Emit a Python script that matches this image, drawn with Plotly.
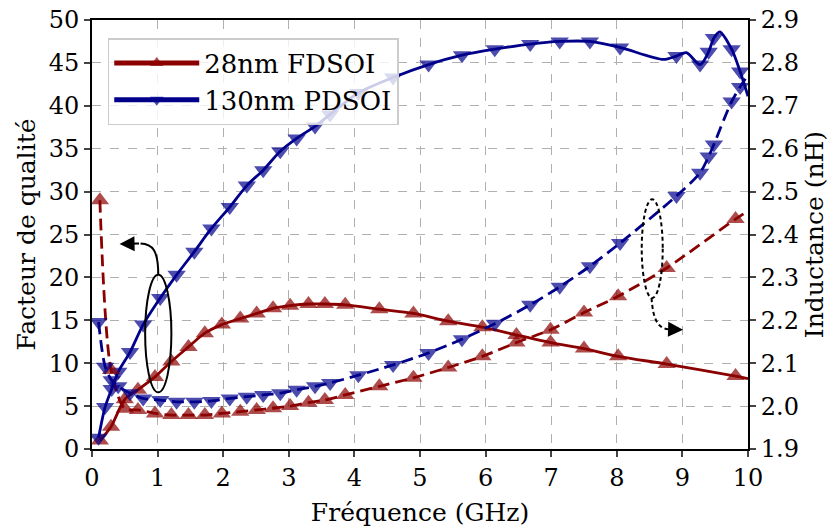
import plotly.graph_objects as go

# frequency points (GHz) where the 28nm markers sit
freq_28 = [0.12, 0.29, 0.5, 0.7, 0.96, 1.21, 1.47, 1.72, 1.98, 2.26, 2.51, 2.76, 3.02,
           3.3, 3.55, 3.86, 4.38, 4.9, 5.43, 5.95, 6.47, 6.99, 7.5, 8.02, 8.76, 9.81]
q_28 = [1.0, 2.6, 5.8, 6.9, 8.4, 10.2, 11.9, 13.5, 14.5, 15.2, 15.8, 16.4, 16.7,
        16.9, 16.9, 16.8, 16.3, 15.8, 14.9, 14.2, 13.3, 12.4, 11.7, 10.8, 9.9, 8.5]
l_28 = [2.48, 2.084, 1.994, 1.991, 1.983, 1.979, 1.979, 1.979, 1.983, 1.987, 1.991, 1.995, 2.0,
        2.008, 2.014, 2.026, 2.046, 2.066, 2.09, 2.116, 2.148, 2.178, 2.218, 2.256, 2.322, 2.436]

# frequency points (GHz) where the 130nm markers sit
freq_130 = [0.1, 0.2, 0.3, 0.4, 0.58, 0.78, 1.04, 1.29, 1.56, 1.82, 2.1, 2.36, 2.61, 2.87,
            3.12, 3.4, 3.63, 4.06, 4.59, 5.13, 5.64, 6.14, 6.68, 7.13, 7.59, 8.05, 8.91,
            9.27, 9.4, 9.48, 9.75, 9.88]
q_130 = [1.3, 4.9, 7.0, 9.0, 11.3, 14.5, 17.6, 20.3, 23.0, 25.7, 28.2, 30.7, 32.5, 34.7,
         36.2, 37.6, 39.0, 41.5, 43.3, 44.8, 45.9, 46.6, 47.2, 47.5, 47.5, 46.8, 45.8,
         44.8, 46.3, 47.9, 46.6, 44.0]
l_130 = [2.196, 2.092, 2.06, 2.046, 2.03, 2.018, 2.014, 2.01, 2.01, 2.012, 2.018, 2.022, 2.026, 2.03,
         2.038, 2.046, 2.054, 2.072, 2.096, 2.124, 2.156, 2.192, 2.236, 2.278, 2.326, 2.38, 2.49,
         2.544, 2.582, 2.61, 2.71, 2.744]

# curve points between / after markers (no marker drawn)
q_28_extra = ([10.0], [8.2])
l_28_extra = ([10.0], [2.455])
q_130_extra = ([8.71, 9.06, 9.57, 10.0], [45.4, 46.2, 48.6, 41.1])
l_130_extra = ([10.0], [2.772])

RED = '#8b0000'
BLUE = '#00008b'
FONT = 'DejaVu Serif'
fnt = dict(family=FONT, size=25, color='black')
tick_fnt = dict(family=FONT, size=24, color='black')


def merge(xm, ym, extra, msize):
    # marker points get a size, curve-only points get 0
    pts = [(x, y, msize) for x, y in zip(xm, ym)] + [(x, y, 0) for x, y in zip(*extra)]
    pts.sort(key=lambda p: p[0])
    return [p[0] for p in pts], [p[1] for p in pts], [p[2] for p in pts]


fig = go.Figure()

series = [
    ('28nm FDSOI', freq_28, q_28, q_28_extra, RED, 'triangle-up', 'solid', 'y', True),
    ('130nm PDSOI', freq_130, q_130, q_130_extra, BLUE, 'triangle-down', 'solid', 'y', True),
    ('28nm L', freq_28, l_28, l_28_extra, RED, 'triangle-up', '12px,6px', 'y2', False),
    ('130nm L', freq_130, l_130, l_130_extra, BLUE, 'triangle-down', '12px,6px', 'y2', False),
]
for name, xm, ym, extra, col, sym, dash, ax, leg in series:
    xs, ys, sz = merge(xm, ym, extra, 16)
    fig.add_trace(go.Scatter(x=xs, y=ys, name=name, yaxis=ax, showlegend=leg,
                             mode='lines+markers',
                             line=dict(color=col, width=2.8, dash=dash, shape='spline', smoothing=0.8),
                             marker=dict(symbol=sym, size=sz, color=col, line=dict(width=0))))

# ellipses marking which curves belong to which axis
fig.add_shape(type='circle', xref='x', yref='y', x0=0.81, x1=1.21, y0=6.6, y1=20.3,
              line=dict(color='black', width=2))
fig.add_shape(type='circle', xref='x', yref='y', x0=8.38, x1=8.70, y0=17.6, y1=29.1,
              line=dict(color='black', width=2, dash='4px,3px'))

# curved arrow bodies
fig.add_shape(type='path', xref='x', yref='y',
              path='M 1.01,20.3 C 1.01,23.2 0.92,23.9 0.74,23.95',
              line=dict(color='black', width=2))
fig.add_shape(type='path', xref='x', yref='y',
              path='M 8.53,17.6 C 8.55,15.2 8.62,14.0 8.80,13.95',
              line=dict(color='black', width=2, dash='4px,3px'))

# arrow heads
for x_tip, y_tip, x_tail, y_tail in [(0.42, 23.9, 0.74, 23.95), (9.01, 13.9, 8.80, 13.95)]:
    fig.add_annotation(x=x_tip, y=y_tip, ax=x_tail, ay=y_tail, xref='x', yref='y',
                       axref='x', ayref='y', text='', showarrow=True, arrowhead=2,
                       arrowsize=1.5, arrowwidth=2, arrowcolor='black', standoff=0)

grid = dict(showgrid=True, gridcolor='#b0b0b0', griddash='dash', gridwidth=1.2)
fig.update_layout(
    width=839, height=527,
    margin=dict(l=92, r=91, t=20, b=78),
    plot_bgcolor='white', paper_bgcolor='white',
    font=fnt,
    xaxis=dict(range=[0, 10], dtick=1, ticks='outside', ticklen=6, tickwidth=1.5, tickfont=tick_fnt,
               showline=True, linecolor='black', linewidth=2, mirror=True, automargin=False,
               ticklabeloverflow='allow',
               title=dict(text='Fréquence (GHz)', standoff=15, font=fnt), zeroline=False, **grid),
    yaxis=dict(range=[0, 50], dtick=5, ticks='outside', ticklen=6, tickwidth=1.5, tickfont=tick_fnt,
               showline=True, linecolor='black', linewidth=2, automargin=False,
               ticklabeloverflow='allow',
               title=dict(text='Facteur de qualité', standoff=6, font=fnt), zeroline=False, **grid),
    yaxis2=dict(range=[1.9, 2.9], dtick=0.1, tickformat='.1f', overlaying='y', side='right',
                ticks='outside', ticklen=6, tickwidth=1.5, showgrid=False, zeroline=False,
                tickfont=tick_fnt, showline=True, linecolor='black', linewidth=2, automargin=False,
                ticklabeloverflow='allow',
                title=dict(text='Inductance (nH)', standoff=8, font=fnt)),
    legend=dict(x=0.024, y=0.958, xanchor='left', yanchor='top',
                bgcolor='rgba(255,255,255,0.8)', bordercolor='#cccccc', borderwidth=1.5,
                itemsizing='constant', itemwidth=85, font=dict(family=FONT, size=26, color='black')),
)

# drop the default 8px page margin so the figure fills the window, hide the modebar
fig.write_html("out.html", config={'displayModeBar': False},
               post_script="document.body.style.margin='0px';")
